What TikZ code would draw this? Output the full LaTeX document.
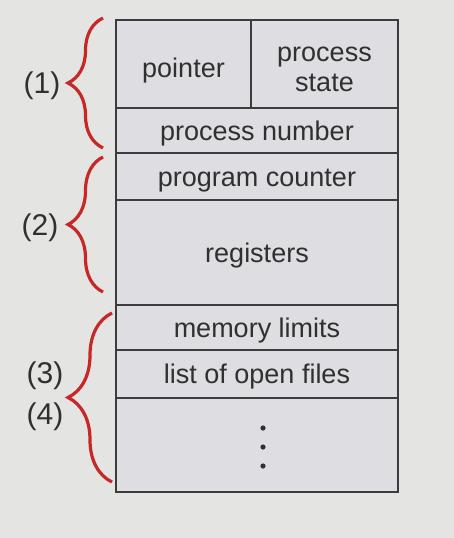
\documentclass[tikz,border=0pt]{standalone}
\usepackage{fontspec}
\setmainfont{Liberation Sans}
\usetikzlibrary{positioning,calc,decorations.pathreplacing}
\definecolor{bggray}{HTML}{E4E4E2}
\definecolor{cellgray}{HTML}{DDDDE2}
\definecolor{edge}{HTML}{3C3C3C}
\definecolor{bracered}{HTML}{C62828}
\definecolor{ink}{HTML}{303030}

\begin{document}
\begin{tikzpicture}[
  x=1pt,y=-1pt,
  cell/.style={rectangle,draw=edge,fill=cellgray,line width=1.6pt,minimum width=282,inner sep=0pt,align=center,text=ink,font=\fontsize{27}{30}\selectfont,text height=26pt,text depth=6.5pt},
  brace/.style={decorate,decoration={brace,amplitude=#1},draw=bracered,line width=3.2pt},
  tag/.style={text=ink,font=\fontsize{30}{32}\selectfont},
]
\fill[bggray] (0,0) rectangle (454,538);
\useasboundingbox (0,0) rectangle (454,538);

% the stacked cells
\node[cell,minimum width=135,minimum height=88,text height=32.5pt,text depth=6pt] (ptr) at (183.5,64) {pointer};
\node[cell,minimum width=147,minimum height=88,text height=55.6pt,text depth=0pt] (state) at (324.5,64) {process\\state};
\node[cell,minimum height=45] (pnum) at (257,130.5) {process number};
\node[cell,minimum height=47] (pc) at (257,176.5) {program counter};
\node[cell,minimum height=105] (regs) at (257,252.5) {registers};
\node[cell,minimum height=45] (mem) at (257,327.5) {memory limits};
\node[cell,minimum height=48] (files) at (257,374) {list of open files};
\node[cell,minimum height=94] (more) at (257,445) {};
\foreach \y in {428,447,466}
  \fill[ink] (263,\y) circle (2.6);

% braces and their tags
\coordinate (b1top) at (103,18);
\coordinate (b1bot) at (103,148);
\coordinate (b2top) at (103,157);
\coordinate (b2bot) at (103,292);
\coordinate (b3top) at (112,313);
\coordinate (b3bot) at (112,482);
\draw[brace=35] (b1bot) -- (b1top);
\draw[brace=35] (b2bot) -- (b2top);
\draw[brace=44] (b3bot) -- (b3top);

\node[tag] (t1) at (42,86) {(1)};
\node[tag] (t2) at (40,228) {(2)};
\node[tag] (t3) at (45,376) {(3)};
\node[tag] (t4) at (45,417) {(4)};
\end{tikzpicture}
\end{document}
